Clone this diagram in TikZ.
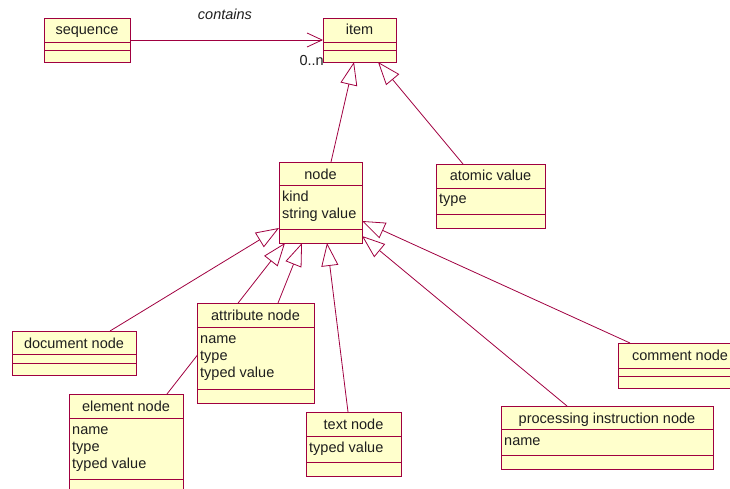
\documentclass[tikz,border=0pt]{standalone}
\usepackage{fontspec}
\setmainfont{Liberation Sans}
\usetikzlibrary{arrows.meta}
\pgfdeclarelayer{bg}
\pgfsetlayers{bg,main}

\definecolor{umlred}{RGB}{160,0,64}
\definecolor{umlfill}{RGB}{255,255,204}
\definecolor{umltext}{RGB}{30,30,30}

\tikzset{
  cls/.style={draw=umlred, fill=umlfill, line width=0.9pt, inner sep=0pt, outer sep=0pt, rectangle},
  clsline/.style={draw=umlred, line width=0.9pt},
  txt/.style={text=umltext, inner sep=0pt, font=\fontsize{14.5}{17}\selectfont},
  gen/.style={draw=umlred, line width=0.8pt, -{Triangle[open, length=23pt, width=17pt, line width=0.8pt]}},
  assoc/.style={draw=umlred, line width=0.8pt, -{Straight Barb[length=15pt, width=14pt, line width=0.8pt]}},
}

% class box: name, x1, y1, x2, y2, first divider, second divider, title
\newcommand\umlclass[8]{%
  \node[cls, minimum width={#4-#2}, minimum height={#5-#3}, anchor=north west] (#1) at (#2,#3) {};
  \draw[clsline] (#2,#6) -- (#4,#6) (#2,#7) -- (#4,#7);
  \node[txt, anchor=base] (#1-title) at ({(#2+#4)/2},#3+17) {#8};
}
% attribute line: name, x, baseline, text
\newcommand\umlattr[4]{%
  \node[txt, anchor=base west] (#1) at (#2+3,#3) {#4};
}

\begin{document}
\begin{tikzpicture}[x=1pt, y=-1pt]
  \useasboundingbox (0,0) rectangle (730,489);
  \clip (0,0) rectangle (730,489);

  % classes
  \umlclass{seq}{44}{18}{130}{62}{42}{50}{sequence}
  \umlclass{item}{323}{18}{396}{62}{42}{50}{item}
  \umlclass{nd}{279}{162}{362}{243}{185}{229}{node}
  \umlattr{nd-a1}{279}{201.5}{kind}
  \umlattr{nd-a2}{279}{218}{string value}

  \umlclass{atom}{436}{164}{545}{228}{188}{214}{atomic value}
  \umlattr{atom-a1}{436}{204}{type}

  \umlclass{doc}{12}{331}{136}{375}{354}{363}{document node}

  \umlclass{attr}{197}{303}{314}{403}{327}{389}{attribute node}
  \umlattr{attr-a1}{197}{343}{name}
  \umlattr{attr-a2}{197}{360}{type}
  \umlattr{attr-a3}{197}{377}{typed value}

  \umlclass{elem}{69}{394}{183}{493}{418}{479}{element node}
  \umlattr{elem-a1}{69}{434}{name}
  \umlattr{elem-a2}{69}{451}{type}
  \umlattr{elem-a3}{69}{468}{typed value}

  \umlclass{tx}{306}{412}{401}{476}{436}{462}{text node}
  \umlattr{tx-a1}{306}{452}{typed value}

  \umlclass{pi}{501}{406}{713}{469}{429}{455}{processing instruction node}
  \umlattr{pi-a1}{501}{445}{name}

  \umlclass{cmt}{618}{343}{742}{388}{368}{376}{comment node}

  % labels of the association
  \node[txt, anchor=base, font=\fontsize{14.5}{17}\selectfont\itshape] (lbl-contains) at (225,20) {contains};
  \node[txt, anchor=base east] (lbl-mult) at (324,66) {0..n};

  % connectors, kept behind the boxes
  \begin{pgfonlayer}{bg}
    \draw[assoc] (seq.east) -- (item.west);
    \draw[gen] ([xshift=52pt]nd.north west) -- ([xshift=31pt]item.south west);
    \draw[gen] ([xshift=27pt]atom.north west) -- ([xshift=55pt]item.south west);
    \draw[gen] ([xshift=98pt]doc.north west) -- ([yshift=15pt]nd.south west);
    \draw[gen] ([xshift=98pt]elem.north west) -- ([xshift=6pt]nd.south west);
    \draw[gen] ([xshift=81pt]attr.north west) -- ([xshift=23pt]nd.south west);
    \draw[gen] ([xshift=42pt]tx.north west) -- ([xshift=48pt]nd.south west);
    \draw[gen] ([xshift=66pt]pi.north west) -- ([yshift=7pt]nd.south east);
    \draw[gen] ([xshift=12pt]cmt.north west) -- ([yshift=22pt]nd.south east);
  \end{pgfonlayer}
\end{tikzpicture}
\end{document}
